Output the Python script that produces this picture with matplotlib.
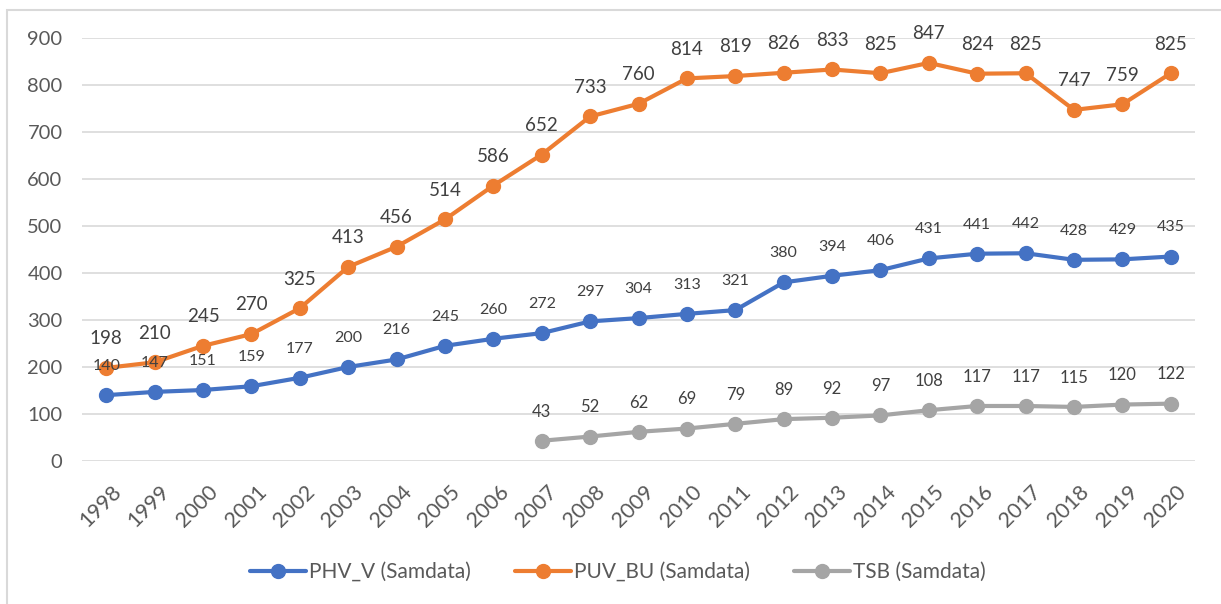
import matplotlib.pyplot as plt
import matplotlib.transforms as mtrans
from matplotlib.patches import Rectangle

plt.rcParams['font.family'] = ['Lato', 'DejaVu Sans']

# data
years = list(range(1998, 2021))
phv_v = [140, 147, 151, 159, 177, 200, 216, 245, 260, 272, 297, 304, 313, 321,
         380, 394, 406, 431, 441, 442, 428, 429, 435]
puv_bu = [198, 210, 245, 270, 325, 413, 456, 514, 586, 652, 733, 760, 814, 819,
          826, 833, 825, 847, 824, 825, 747, 759, 825]
tsb_years = list(range(2007, 2021))
tsb = [43, 52, 62, 69, 79, 89, 92, 97, 108, 117, 117, 115, 120, 122]

BLUE = "#4472C4"
ORANGE = "#ED7D31"
GRAY = "#A5A5A5"
TXT = "#404040"

fig = plt.figure(figsize=(12.21, 6.04), dpi=100)
ax = fig.add_axes([0.0672, 0.2368, 0.9115, 0.7003])

# chart border (only left and top visible in the crop)
fig.patches.append(Rectangle((7 / 1221, -0.1), 1.2, 1 - 10 / 604 + 0.1,
                             transform=fig.transFigure, fill=False,
                             edgecolor="#D9D9D9", linewidth=1.5))

x_all = list(range(len(years)))
x_tsb = [years.index(y) for y in tsb_years]

series = [
    (x_all, phv_v, BLUE, "PHV_V (Samdata)", 11.5),
    (x_all, puv_bu, ORANGE, "PUV_BU (Samdata)", 13.5),
    (x_tsb, tsb, GRAY, "TSB (Samdata)", 12),
]

for xs, ys, col, lab, fs in series:
    ax.plot(xs, ys, color=col, linewidth=3, marker="o", markersize=10,
            label=lab, solid_capstyle="round", zorder=3)
    for x, y in zip(xs, ys):
        ax.annotate(str(y), (x, y), xytext=(0, 21), textcoords="offset points",
                    ha="center", va="center", fontsize=fs, color=TXT, zorder=4)

ax.set_xlim(-0.5, len(years) - 0.5)
ax.set_ylim(0, 900)
ax.set_yticks(range(0, 1000, 100))
ax.set_xticks(x_all)
ax.set_xticklabels([str(y) for y in years], rotation=45, ha="right",
                   rotation_mode="anchor")
ax.tick_params(axis="y", length=0, labelsize=14.5, colors="#595959", pad=14)
ax.tick_params(axis="x", length=0, labelsize=15.5, colors="#595959", pad=15)
shift = mtrans.ScaledTranslation(5 / 100, 0, fig.dpi_scale_trans)
for t in ax.get_xticklabels():
    t.set_transform(t.get_transform() + shift)
ax.grid(axis="y", color="#D9D9D9", linewidth=1.2)
ax.set_axisbelow(True)
for s in ax.spines.values():
    s.set_visible(False)

ax.legend(loc="center", bbox_to_anchor=(618 / 1221, 1 - 572 / 604),
          bbox_transform=fig.transFigure, ncol=3, frameon=False,
          fontsize=15, handlelength=2.7, columnspacing=2.1,
          handletextpad=0.15, labelcolor="#595959")

fig.savefig("out.png", dpi=100)
